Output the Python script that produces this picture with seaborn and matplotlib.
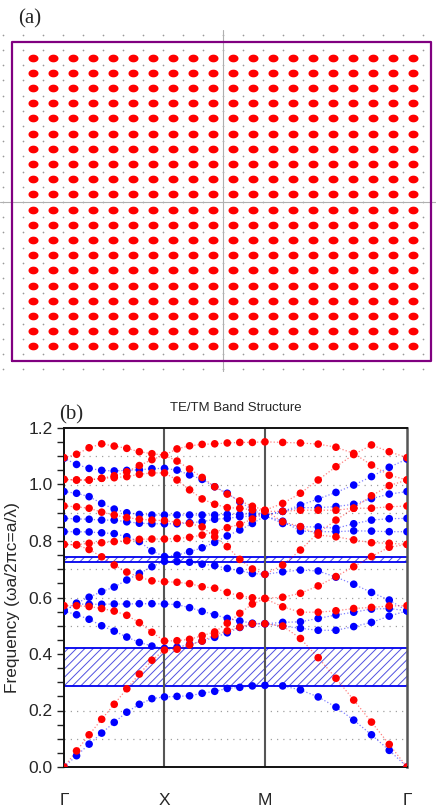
import numpy as np
import pandas as pd
import seaborn as sns
import matplotlib
matplotlib.use("Agg")
import matplotlib.pyplot as plt
from matplotlib.ticker import MultipleLocator, FormatStrFormatter

sns.set_theme(style="ticks")
plt.rcParams["font.family"] = ["Liberation Sans", "DejaVu Sans"]
plt.rcParams["hatch.linewidth"] = 0.7

# ---- (a) lattice layout (20 x 20 rods) ----
n_cols = 20
n_rows = 20
frame_x = [-10.55, 10.4]
frame_y = [-10.46, 10.53]

# ---- (b) band structure ----
k_labels = ["Γ", "X", "M", "Γ"]
k_nodes = [0.0, 1.0, 2.0, 2.0 + np.sqrt(2)]
steps_per_segment = 8
gap_main = (0.288, 0.420)
gap_small = (0.727, 0.745)

# each band: Γ→X (9 pts), X→M (8 pts), M→Γ (8 pts)
te1 = [0.000, 0.040, 0.081, 0.120, 0.158, 0.194, 0.222, 0.242, 0.248,
       0.250, 0.252, 0.261, 0.268, 0.278, 0.282, 0.287, 0.289,
       0.287, 0.273, 0.248, 0.212, 0.166, 0.114, 0.059, 0.000]
te2 = [0.552, 0.539, 0.523, 0.500, 0.481, 0.460, 0.441, 0.428, 0.420,
       0.424, 0.434, 0.446, 0.459, 0.475, 0.494, 0.506, 0.507,
       0.499, 0.491, 0.484, 0.484, 0.497, 0.512, 0.534, 0.553]
te3 = [0.552, 0.577, 0.576, 0.576, 0.577, 0.577, 0.578, 0.578, 0.577,
       0.575, 0.564, 0.551, 0.539, 0.526, 0.517, 0.509, 0.507,
       0.512, 0.514, 0.526, 0.538, 0.548, 0.559, 0.561, 0.553]
te4 = [0.552, 0.580, 0.601, 0.621, 0.637, 0.662, 0.685, 0.709, 0.728,
       0.727, 0.725, 0.718, 0.713, 0.703, 0.695, 0.685, 0.682,
       0.691, 0.697, 0.694, 0.672, 0.647, 0.618, 0.591, 0.553]
te5 = [0.833, 0.833, 0.832, 0.829, 0.826, 0.815, 0.798, 0.765, 0.745,
       0.750, 0.762, 0.776, 0.795, 0.818, 0.839, 0.862, 0.888,
       0.870, 0.835, 0.833, 0.833, 0.836, 0.835, 0.833, 0.833]
te6 = [0.880, 0.878, 0.877, 0.874, 0.874, 0.868, 0.863, 0.861, 0.861,
       0.861, 0.865, 0.868, 0.877, 0.880, 0.886, 0.888, 0.889,
       0.862, 0.850, 0.850, 0.845, 0.861, 0.874, 0.879, 0.880]
te7 = [0.975, 0.969, 0.957, 0.933, 0.913, 0.900, 0.894, 0.892, 0.892,
       0.892, 0.892, 0.892, 0.892, 0.894, 0.894, 0.897, 0.892,
       0.905, 0.918, 0.918, 0.922, 0.930, 0.950, 0.966, 0.975]
te8 = [1.093, 1.071, 1.057, 1.050, 1.048, 1.050, 1.052, 1.056, 1.057,
       1.051, 1.034, 1.018, 0.992, 0.969, 0.939, 0.910, 0.890,
       0.905, 0.927, 0.949, 0.972, 0.998, 1.028, 1.061, 1.090]

tm1 = [0.000, 0.057, 0.114, 0.169, 0.222, 0.277, 0.329, 0.378, 0.414,
       0.417, 0.432, 0.446, 0.468, 0.482, 0.495, 0.507, 0.507,
       0.499, 0.455, 0.387, 0.314, 0.237, 0.159, 0.080, 0.000]
tm2 = [0.571, 0.571, 0.568, 0.561, 0.552, 0.537, 0.511, 0.477, 0.446,
       0.447, 0.452, 0.465, 0.478, 0.509, 0.544, 0.577, 0.596,
       0.567, 0.548, 0.548, 0.553, 0.561, 0.565, 0.570, 0.571]
tm3 = [0.788, 0.786, 0.770, 0.744, 0.715, 0.690, 0.672, 0.659, 0.656,
       0.654, 0.649, 0.638, 0.633, 0.618, 0.606, 0.599, 0.597,
       0.601, 0.615, 0.641, 0.674, 0.709, 0.745, 0.778, 0.788]
tm4 = [0.788, 0.787, 0.792, 0.794, 0.798, 0.801, 0.806, 0.807, 0.807,
       0.809, 0.813, 0.821, 0.831, 0.847, 0.859, 0.878, 0.905,
       0.905, 0.909, 0.909, 0.909, 0.916, 0.916, 0.921, 0.924]
tm5 = [0.924, 0.921, 0.916, 0.902, 0.892, 0.883, 0.877, 0.874, 0.872,
       0.866, 0.862, 0.850, 0.815, 0.780, 0.735, 0.701, 0.682,
       0.715, 0.768, 0.829, 0.874, 0.916, 0.960, 0.996, 1.016]
tm6 = [1.018, 1.016, 1.016, 1.022, 1.024, 1.028, 1.036, 1.041, 1.041,
       1.016, 0.981, 0.949, 0.930, 0.918, 0.916, 0.910, 0.908,
       0.868, 0.851, 0.821, 0.815, 0.804, 0.794, 0.792, 0.788]
tm7 = [1.018, 1.016, 1.016, 1.022, 1.031, 1.045, 1.067, 1.088, 1.104,
       1.083, 1.055, 1.025, 0.992, 0.966, 0.942, 0.923, 0.909,
       0.933, 0.969, 1.016, 1.063, 1.106, 1.140, 1.116, 1.095]
tm8 = [1.095, 1.107, 1.130, 1.144, 1.136, 1.128, 1.116, 1.109, 1.104,
       1.126, 1.137, 1.142, 1.144, 1.147, 1.149, 1.149, 1.151,
       1.149, 1.147, 1.143, 1.132, 1.110, 1.069, 1.033, 1.016]

te_bands = [te1, te2, te3, te4, te5, te6, te7, te8]
tm_bands = [tm1, tm2, tm3, tm4, tm5, tm6, tm7, tm8]

# k-path sampling: 8 steps on each segment
k = [k_nodes[0]]
for a, b in zip(k_nodes[:-1], k_nodes[1:]):
    k += list(np.linspace(a, b, steps_per_segment + 1)[1:])
k = np.array(k)

rows = []
for pol, bands in (("TE", te_bands), ("TM", tm_bands)):
    for i, band in enumerate(bands):
        for kk, f in zip(k, band):
            rows.append({"k": kk, "freq": f, "band": f"{pol}{i}", "pol": pol})
df = pd.DataFrame(rows)
palette = {"TE": "#0000ff", "TM": "#ff0000"}

fig = plt.figure(figsize=(4.36, 8.11), dpi=100)

# ================= panel (a) =================
ax_a = fig.add_axes([0, (811 - 372) / 811, 1, (372 - 30) / 811])
ax_a.set_xlim(-11.15, 10.65)
ax_a.set_ylim(-11.18, 11.32)
ax_a.axis("off")

gx, gy = np.meshgrid(np.arange(-11, 11), np.arange(-11, 12))
sns.scatterplot(x=gx.ravel(), y=gy.ravel(), s=1.5, color="#999999",
                linewidth=0, ax=ax_a, zorder=1)
ax_a.axhline(0, color="#b0b0b0", lw=0.8, zorder=1)
ax_a.axvline(0, color="#b0b0b0", lw=0.8, zorder=1)

rx, ry = np.meshgrid(np.arange(n_cols) - (n_cols - 1) / 2,
                     np.arange(n_rows) - (n_rows - 1) / 2)
t = np.linspace(0, 2 * np.pi, 40)
ellipse = list(zip(1.3 * np.cos(t), np.sin(t)))
sns.scatterplot(x=rx.ravel(), y=ry.ravel(), marker=ellipse, s=52,
                color="#ff0000", linewidth=0, ax=ax_a, zorder=3)
ax_a.plot([frame_x[0], frame_x[1], frame_x[1], frame_x[0], frame_x[0]],
          [frame_y[0], frame_y[0], frame_y[1], frame_y[1], frame_y[0]],
          color="#800080", lw=1.6, zorder=4)

fig.text(18 / 436, 1 - 19 / 811, "(a)", family="Liberation Serif",
         fontsize=15, va="center", ha="left")

# ================= panel (b) =================
ax = fig.add_axes([64 / 436, (811 - 767) / 811, (407 - 64) / 436, (767 - 428) / 811])

for lvl in np.arange(0.1, 1.15, 0.1):
    ax.axhline(lvl, color="#a0a0a0", lw=0.9, ls=(0, (1, 4)), zorder=0)

for lo, hi in (gap_main, gap_small):
    ax.axhspan(lo, hi, facecolor="white", edgecolor="#5050e0", hatch="////",
               linewidth=0, zorder=1)
    ax.axhline(lo, color="#0000ee", lw=1.3, zorder=2)
    ax.axhline(hi, color="#0000ee", lw=1.3, zorder=2)

for kn in k_nodes[1:3]:
    ax.axvline(kn, color="#555555", lw=1.5, zorder=2)

sns.lineplot(data=df, x="k", y="freq", hue="pol", units="band",
             estimator=None, sort=False, palette=palette, linestyle=":",
             lw=0.9, alpha=0.5, legend=False, ax=ax, zorder=3)
sns.scatterplot(data=df, x="k", y="freq", hue="pol", palette=palette,
                s=30, linewidth=0, legend=False, ax=ax, zorder=4)

ax.set_xlim(k_nodes[0], k_nodes[-1])
ax.set_ylim(0, 1.2)
ax.set_xticks(k_nodes)
ax.set_xticklabels(k_labels)
ax.tick_params(axis="x", length=0, pad=19, labelsize=12.5)
ax.yaxis.set_major_locator(MultipleLocator(0.2))
ax.yaxis.set_minor_locator(MultipleLocator(0.05))
ax.yaxis.set_major_formatter(FormatStrFormatter("%.1f"))
ax.tick_params(axis="y", which="both", direction="out", length=5,
               width=1, labelsize=12.5, pad=3, color="#222222")
ax.set_xlabel("")
ax.set_ylabel("Frequency (ωa/2πc=a/λ)", fontsize=12.5, labelpad=6)
ax.set_title("TE/TM Band Structure", fontsize=9.5, pad=12)
for name, sp in ax.spines.items():
    sp.set_linewidth(1.4)
    sp.set_color("#111111")
ax.spines["right"].set_color("#555555")
ax.spines["right"].set_linewidth(1.8)

fig.text(59 / 436, 1 - 415 / 811, "(b)", family="Liberation Serif",
         fontsize=15, va="center", ha="left")

fig.savefig("out.png", dpi=100)
